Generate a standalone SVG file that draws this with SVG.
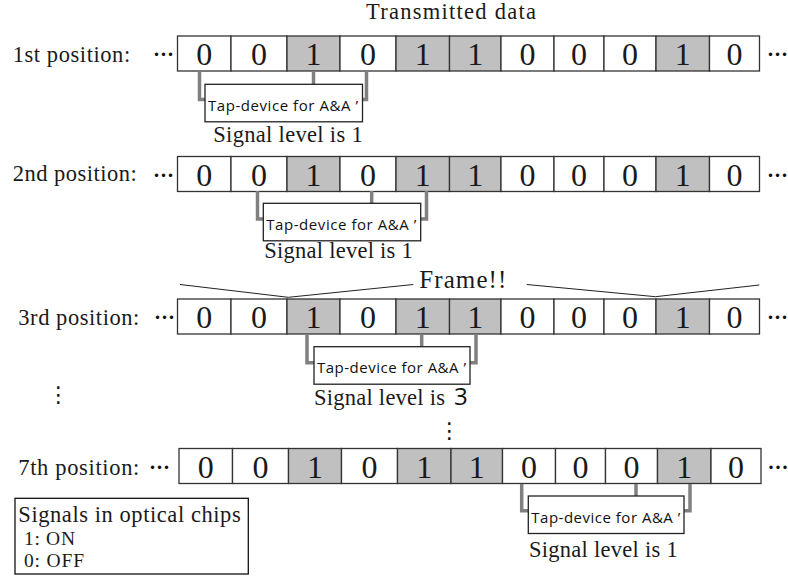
<svg xmlns="http://www.w3.org/2000/svg" width="788" height="579" viewBox="0 0 788 579">
<style>
.lbl{font-family:"Liberation Serif","Times New Roman",serif;font-size:22.5px;fill:#1a1a1a}
.dig{font-family:"Liberation Serif","Times New Roman",serif;font-size:32px;fill:#1a1a1a;text-anchor:middle}
.dots{font-family:"Liberation Serif","Times New Roman",serif;font-size:21px;fill:#111;font-weight:bold}
.c0{fill:#fff;stroke:#333;stroke-width:1.3}
.c1{fill:#c0c0c0;stroke:#333;stroke-width:1.3}
.tap{fill:#fff;stroke:#222;stroke-width:1.3}
.taptxt{font-family:"Open Sans","Noto Sans",sans-serif;font-size:15px;fill:#111}
.con{fill:none;stroke:#808080;stroke-width:3.5}
.frm{fill:none;stroke:#222;stroke-width:1}
.leg{font-family:"Liberation Serif","Times New Roman",serif;font-size:19.5px;fill:#1a1a1a}
</style>
<defs>
<g id="cells">
<rect class="c0" x="177.5" y="0" width="53.5" height="35"/>
<rect class="c0" x="231" y="0" width="56" height="35"/>
<rect class="c1" x="287" y="0" width="53" height="35"/>
<rect class="c0" x="340" y="0" width="56" height="35"/>
<rect class="c1" x="396" y="0" width="53.5" height="35"/>
<rect class="c1" x="449.5" y="0" width="51.5" height="35"/>
<rect class="c0" x="501" y="0" width="53" height="35"/>
<rect class="c0" x="554" y="0" width="50" height="35"/>
<rect class="c0" x="604" y="0" width="52" height="35"/>
<rect class="c1" x="656" y="0" width="53.5" height="35"/>
<rect class="c0" x="709.5" y="0" width="50" height="35"/>
<text class="dig" x="204.3" y="29">0</text>
<text class="dig" x="259" y="29">0</text>
<text class="dig" x="313.5" y="29">1</text>
<text class="dig" x="368" y="29">0</text>
<text class="dig" x="422.8" y="29">1</text>
<text class="dig" x="475.3" y="29">1</text>
<text class="dig" x="527.5" y="29">0</text>
<text class="dig" x="579" y="29">0</text>
<text class="dig" x="630" y="29">0</text>
<text class="dig" x="682.8" y="29">1</text>
<text class="dig" x="734.5" y="29">0</text>
</g>
</defs>

<text class="lbl" x="366" y="18.5" textLength="170">Transmitted data</text>

<g id="row1">
<text class="lbl" x="12.7" y="61.5" textLength="117.5">1st position:</text>
<text class="dots" x="153" y="61">···</text>
<use href="#cells" transform="translate(0,36)"/>
<text class="dots" x="767" y="61">···</text>
</g>

<g id="row2">
<text class="lbl" x="12.7" y="181" textLength="124">2nd position:</text>
<text class="dots" x="153" y="181.5">···</text>
<use href="#cells" transform="translate(0,156.5)"/>
<text class="dots" x="767" y="181.5">···</text>
</g>

<g id="row3">
<text class="lbl" x="18.3" y="325" textLength="121">3rd position:</text>
<text class="dots" x="154" y="324">···</text>
<use href="#cells" transform="translate(0,299)"/>
<text class="dots" x="767" y="324">···</text>
</g>

<g id="row4">
<text class="lbl" x="18.3" y="474.5" textLength="121">7th position:</text>
<text class="dots" x="149" y="474">···</text>
<use href="#cells" transform="translate(1.5,448.5)"/>
<text class="dots" x="767.5" y="474">···</text>
</g>

<g id="frame">
<polyline class="frm" points="180,284.5 288.3,297.3 413.3,284.5"/>
<polyline class="frm" points="526.7,284.5 655.5,296.7 759.3,285"/>
<text class="lbl" x="419.3" y="288.3" style="font-size:25px" textLength="87">Frame!!</text>
</g>

<g id="connectors">
<path class="con" d="M199.5 71 V99.5 H205 M313.5 71 V84.3 M366.5 71 V99.5 H362"/>
<path class="con" d="M257.5 191 V219 H263.3 M371.7 191 V203.3 M426.5 191 V219 H420.5"/>
<path class="con" d="M307 334 V362.7 H314 M421.7 334 V346.7 M476 334 V362.7 H470"/>
<path class="con" d="M521.7 484 V510.7 H528.3 M636 484 V496 M690 484 V510.7 H684"/>
</g>

<g id="tap1">
<rect class="tap" x="205" y="84.3" width="157.5" height="37.5"/>
<text class="taptxt" x="208" y="111" textLength="150">Tap-device for A&amp;A ’</text>
<text class="lbl" x="213.3" y="142.3" textLength="149.4">Signal level is 1</text>
</g>

<g id="tap2">
<rect class="tap" x="263.3" y="203.3" width="157.4" height="37.5"/>
<text class="taptxt" x="266.3" y="230" textLength="150">Tap-device for A&amp;A ’</text>
<text class="lbl" x="264.3" y="258.3" textLength="148.4">Signal level is 1</text>
</g>

<g id="tap3">
<rect class="tap" x="314" y="346.7" width="156" height="37.5"/>
<text class="taptxt" x="317" y="373.4" textLength="149">Tap-device for A&amp;A ’</text>
<text class="lbl" x="314" y="405" textLength="131">Signal level is</text>
<text x="454" y="405" style="font-family:'Open Sans','Noto Sans',sans-serif;font-size:24px;fill:#111">3</text>
</g>

<g id="tap4">
<rect class="tap" x="528.3" y="496" width="155.7" height="37.5"/>
<text class="taptxt" x="531.3" y="522.7" textLength="149">Tap-device for A&amp;A ’</text>
<text class="lbl" x="529" y="556.7" textLength="148.7">Signal level is 1</text>
</g>

<text x="58.3" y="402" style="font-family:'DejaVu Sans',sans-serif;font-size:22px;fill:#111;text-anchor:middle">⋮</text>
<text x="449.3" y="438" style="font-family:'DejaVu Sans',sans-serif;font-size:22px;fill:#111;text-anchor:middle">⋮</text>

<g id="legend">
<rect x="15" y="498.3" width="233.3" height="75.7" fill="#fff" stroke="#111" stroke-width="1.3"/>
<text class="lbl" x="18.3" y="521.7" textLength="222.4">Signals in optical chips</text>
<text class="leg" x="24" y="545" textLength="51">1: ON</text>
<text class="leg" x="24" y="567" textLength="60">0: OFF</text>
</g>
</svg>
